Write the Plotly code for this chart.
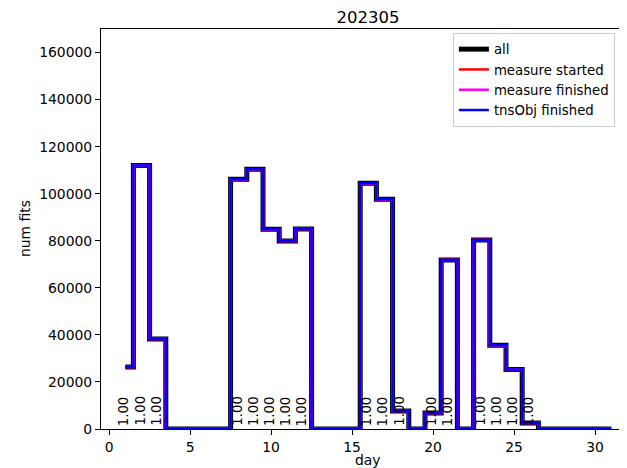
import plotly.graph_objects as go

days = list(range(1, 32))
num_fits = [26300, 112000, 38200, 0, 0, 0, 0, 106100, 110400, 84900, 79900, 85000,
            0, 0, 0, 104400, 97600, 7600, 0, 6800, 71800, 0, 80300, 35600, 25300,
            2600, 0, 0, 0, 0, 0]
series = [
    ("all", "#000000", 5),
    ("measure started", "#ff0000", 2.5),
    ("measure finished", "#ff00ff", 2.5),
    ("tnsObj finished", "#0000ff", 2.5),
]
ratio_label = "1.00"
title = "202305"
x_title = "day"
y_title = "num fits"

FONT = "DejaVu Sans"
# the page body has an 8px margin, so the figure is sized to fill the rest of the window
W, H = 619, 460
L, T, B = 93, 21, 39
PW, PH = W - L, H - T - B

fig = go.Figure()
for name, color, width in series:
    fig.add_trace(go.Scatter(x=days, y=num_fits, mode="lines", name=name,
                             line=dict(color=color, width=width, shape="hvh")))

for d, v in zip(days, num_fits):
    if v > 0:
        fig.add_annotation(x=d, y=0, xref="x", yref="y", text=ratio_label,
                           textangle=-90, showarrow=False, xanchor="center",
                           yanchor="bottom", yshift=1, xshift=-2,
                           font=dict(family=FONT, size=13.3, color="black"))

fig.add_annotation(text=x_title, xref="paper", yref="paper", x=(360 - L) / PW,
                   y=-(452 - (T + PH)) / PH, xanchor="center", yanchor="middle",
                   showarrow=False, font=dict(family=FONT, size=13.9, color="black"))
fig.add_annotation(text=y_title, xref="paper", yref="paper", x=(17 - L) / PW,
                   y=0.5, xanchor="center", yanchor="middle", textangle=-90,
                   showarrow=False, font=dict(family=FONT, size=13.9, color="black"))

axis_common = dict(showline=True, linecolor="black", linewidth=1.1, ticks="outside",
                   ticklen=5, tickwidth=1.1, tickcolor="black", showgrid=False,
                   zeroline=False, automargin=False,
                   tickfont=dict(family=FONT, size=13.9, color="black"))
fig.update_layout(
    width=W, height=H,
    margin=dict(l=L, r=0, t=T, b=B, autoexpand=False),
    plot_bgcolor="white", paper_bgcolor="white",
    title=dict(text=title, x=360 / W, xanchor="center", y=1 - 9 / H,
               yanchor="middle", font=dict(family=FONT, size=16.5, color="black")),
    xaxis=dict(range=[-0.5, 31.97], tickvals=[0, 5, 10, 15, 20, 25, 30], mirror=True,
               **axis_common),
    yaxis=dict(range=[0, 170000], tickvals=list(range(0, 160001, 20000)), tickformat="d",
               **axis_common),
    legend=dict(x=0.669, y=0.99, xanchor="left", yanchor="top", bgcolor="rgba(255,255,255,0.8)",
                bordercolor="#cccccc", borderwidth=1, itemwidth=30,
                font=dict(family=FONT, size=13.3, color="black"), tracegroupgap=0),
    showlegend=True,
)
fig.write_html("out.html")
